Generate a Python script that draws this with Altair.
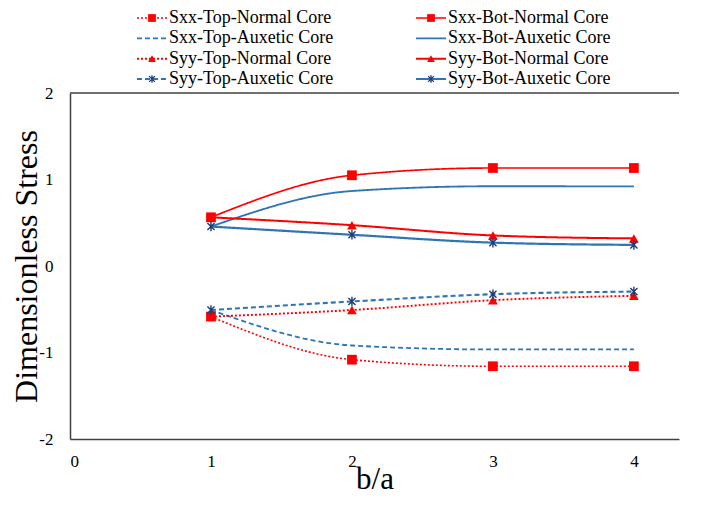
import altair as alt
import pandas as pd

# ---------------- data ----------------
b_a = [1, 2, 3, 4]
series_names = [
    "Sxx-Top-Normal Core", "Sxx-Bot-Normal Core",
    "Sxx-Top-Auxetic Core", "Sxx-Bot-Auxetic Core",
    "Syy-Top-Normal Core", "Syy-Bot-Normal Core",
    "Syy-Top-Auxetic Core", "Syy-Bot-Auxetic Core",
]
sxx_top_normal = [-0.585, -1.083, -1.159, -1.159]
sxx_bot_normal = [0.563, 1.049, 1.133, 1.133]
sxx_top_auxetic = [-0.509, -0.919, -0.965, -0.965]
sxx_bot_auxetic = [0.456, 0.867, 0.922, 0.920]
syy_top_normal = [-0.585, -0.509, -0.395, -0.345]
syy_bot_normal = [0.563, 0.472, 0.353, 0.319]
syy_top_auxetic = [-0.509, -0.410, -0.326, -0.296]
syy_bot_auxetic = [0.456, 0.361, 0.270, 0.244]
series_values = [sxx_top_normal, sxx_bot_normal, sxx_top_auxetic, sxx_bot_auxetic,
                 syy_top_normal, syy_bot_normal, syy_top_auxetic, syy_bot_auxetic]
x_ticks = [0, 1, 2, 3, 4]
y_ticks = [-2, -1, 0, 1, 2]
x_domain = [0, 4.32]
y_domain = [-2, 2]
legend_cols = [0, 1, 0, 1, 0, 1, 0, 1]
legend_rows = [0, 0, 1, 1, 2, 2, 3, 3]

# ---------------- styles ----------------
RED = "#FF0000"
BLUE = "#2E75B6"
NAVY = "#1F3A73"
AX = "#404040"
FONT = "Liberation Serif"
series_colors = [RED, RED, BLUE, BLUE, RED, RED, BLUE, BLUE]
series_dashes = [[2, 2], [1, 0], [5, 3], [1, 0], [2, 2], [1, 0], [5, 3], [1, 0]]
series_widths = [1.6, 2.2, 2.6, 2.2, 1.6, 2.2, 2.6, 2.2]
series_markers = ["square", "square", None, None, "triangle-up", "triangle-up", "asterisk", "asterisk"]
ASTERISK = "M0,-1L0,1M-0.75,-0.75L0.75,0.75M-0.75,0.75L0.75,-0.75"

# ---------------- tables ----------------
rows = []
for name, vals, mk in zip(series_names, series_values, series_markers):
    for xv, yv in zip(b_a, vals):
        rows.append({"series": name, "b_a": xv, "stress": yv, "marker": mk or "none"})
df = pd.DataFrame(rows)
leg = pd.DataFrame({"series": series_names, "col": legend_cols, "row": legend_rows,
                    "marker": [m or "none" for m in series_markers]})

color_scale = alt.Scale(domain=series_names, range=series_colors)
dash_scale = alt.Scale(domain=series_names, range=series_dashes)
width_scale = alt.Scale(domain=series_names, range=series_widths)
shape_scale = alt.Scale(domain=["square", "triangle-up"], range=["square", "triangle-up"])

xs = alt.Scale(domain=x_domain, nice=False, zero=False)
ys = alt.Scale(domain=y_domain, nice=False, zero=False)

x_axis = alt.Axis(values=x_ticks, format="d", title="b/a", grid=False, ticks=False,
                  labelPadding=14, titlePadding=-5, labelFontSize=17, titleFontSize=31,
                  titleFontWeight="normal", labelFont=FONT, titleFont=FONT,
                  labelColor="#000000", titleColor="#000000",
                  domainColor=AX, domainWidth=1.5)
y_axis = alt.Axis(values=y_ticks, labelExpr="'' + datum.value", title="Dimensionless Stress",
                  grid=False, ticks=False,
                  labelPadding=17, titlePadding=-5, labelFontSize=17, titleFontSize=32,
                  titleFontWeight="normal", labelFont=FONT, titleFont=FONT,
                  labelColor="#000000", titleColor="#000000",
                  domainColor=AX, domainWidth=1.5)

lines = alt.Chart(df).mark_line(interpolate="monotone").encode(
    x=alt.X("b_a:Q", scale=xs, axis=x_axis),
    y=alt.Y("stress:Q", scale=ys, axis=y_axis),
    color=alt.Color("series:N", scale=color_scale, legend=None),
    strokeDash=alt.StrokeDash("series:N", scale=dash_scale, legend=None),
    strokeWidth=alt.StrokeWidth("series:N", scale=width_scale, legend=None),
    detail="series:N",
)

pts = alt.Chart(df).transform_filter(
    alt.FieldOneOfPredicate(field="marker", oneOf=["square", "triangle-up"])
).mark_point(filled=True, opacity=1, size=95, color=RED).encode(
    x=alt.X("b_a:Q", scale=xs, axis=x_axis),
    y=alt.Y("stress:Q", scale=ys, axis=y_axis),
    shape=alt.Shape("marker:N", scale=shape_scale, legend=None),
)

stars = alt.Chart(df).transform_filter(
    alt.FieldEqualPredicate(field="marker", equal="asterisk")
).mark_point(filled=False, opacity=1, size=90, color=NAVY, shape=ASTERISK, strokeWidth=1.4).encode(
    x=alt.X("b_a:Q", scale=xs, axis=x_axis),
    y=alt.Y("stress:Q", scale=ys, axis=y_axis),
)

top_border = alt.Chart(pd.DataFrame({"top": [y_domain[1]]})).mark_rule(
    color=AX, strokeWidth=1.5).encode(y=alt.Y("top:Q", scale=ys, axis=y_axis))

main = alt.layer(lines, pts, stars, top_border).properties(width=609, height=346)

# ---------------- legend panel ----------------
lx = alt.Scale(domain=[0, 1], range=[82, 361])
ly = alt.Scale(domain=[0, 3], range=[10, 71])

leg_lines = alt.Chart(leg).mark_rule(xOffset=-15, x2Offset=15).encode(
    x=alt.X("col:Q", scale=lx, axis=None),
    x2="col:Q",
    y=alt.Y("row:Q", scale=ly, axis=None),
    color=alt.Color("series:N", scale=color_scale, legend=None),
    strokeDash=alt.StrokeDash("series:N", scale=dash_scale, legend=None),
    strokeWidth=alt.StrokeWidth("series:N", scale=width_scale, legend=None),
)
leg_pts = alt.Chart(leg).transform_filter(
    alt.FieldOneOfPredicate(field="marker", oneOf=["square", "triangle-up"])
).mark_point(filled=True, opacity=1, size=60, color=RED).encode(
    x=alt.X("col:Q", scale=lx, axis=None),
    y=alt.Y("row:Q", scale=ly, axis=None),
    shape=alt.Shape("marker:N", scale=shape_scale, legend=None),
)
leg_stars = alt.Chart(leg).transform_filter(
    alt.FieldEqualPredicate(field="marker", equal="asterisk")
).mark_point(filled=False, opacity=1, size=60, color=NAVY, shape=ASTERISK, strokeWidth=1.3).encode(
    x=alt.X("col:Q", scale=lx, axis=None),
    y=alt.Y("row:Q", scale=ly, axis=None),
)
leg_text = alt.Chart(leg).mark_text(align="left", baseline="middle", dx=17,
                                     font=FONT, fontSize=18, color="#000000").encode(
    x=alt.X("col:Q", scale=lx, axis=None),
    y=alt.Y("row:Q", scale=ly, axis=None),
    text="series:N",
)
legend_panel = alt.layer(leg_lines, leg_pts, leg_stars, leg_text).properties(width=609, height=80)

chart = alt.vconcat(legend_panel, main, spacing=5, bounds="flush").properties(
    padding={"left": 2, "top": 0, "right": 0, "bottom": 0}
).configure_view(strokeWidth=0, stroke="transparent")

chart.save("out.html", embed_options={"renderer": "svg", "actions": False})
